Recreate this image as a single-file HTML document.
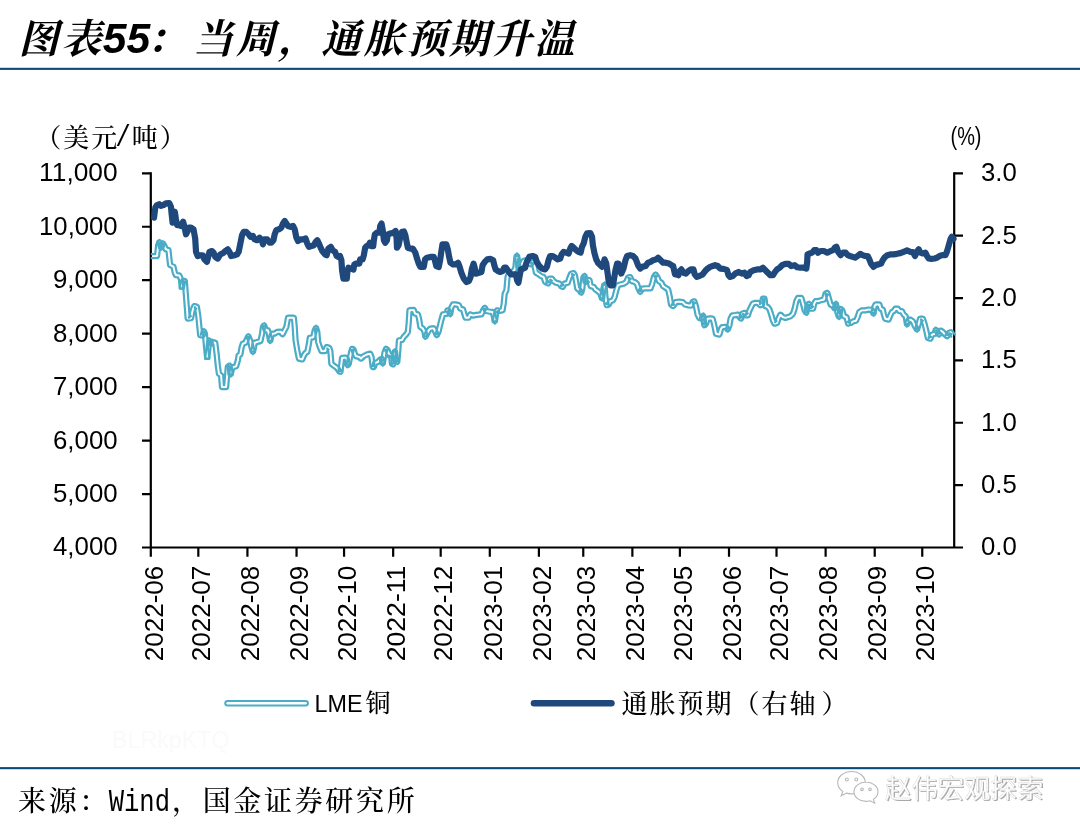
<!DOCTYPE html>
<html lang="zh-CN"><head><meta charset="utf-8"><title>图表55：当周，通胀预期升温</title>
<style>
html,body{margin:0;padding:0;background:#fff;}
body{width:1080px;height:837px;overflow:hidden;}
svg{display:block;}
.num{font-family:"Liberation Sans","Noto Sans CJK SC",sans-serif;fill:#000;}
.kai{font-family:"Liberation Serif","Noto Serif CJK SC",serif;font-weight:500;fill:#000;}
.mono{font-family:"Liberation Mono","Noto Sans CJK SC",monospace;fill:#000;}
.ttl{font-family:"Liberation Sans","Noto Serif CJK SC",serif;font-weight:700;font-style:italic;fill:#000;}
</style></head><body>
<svg width="1080" height="837" viewBox="0 0 1080 837">
<rect width="1080" height="837" fill="#fff"/>
<text class="ttl" x="18.5" y="53" font-size="40" letter-spacing="2.67">图表<tspan font-size="42.67" letter-spacing="0" dx="-1">55</tspan><tspan dx="-4">：</tspan><tspan dx="4">当</tspan>周，通胀预期升温</text>
<rect x="0" y="67.8" width="1080" height="2.1" fill="#0d4976"/>
<rect x="0" y="767.1" width="1080" height="2.1" fill="#0d4976"/>
<g stroke="#000" stroke-width="2.2" fill="none" stroke-linecap="butt">
<path d="M150.8 172.20000000000002V547.5M954.2 172.20000000000002V547.5M142.0 547.5H963.0"/>
<path d="M142.0 173.30H150.8M142.0 226.76H150.8M142.0 280.21H150.8M142.0 333.67H150.8M142.0 387.13H150.8M142.0 440.59H150.8M142.0 494.04H150.8M954.2 173.30H963.0M954.2 235.67H963.0M954.2 298.03H963.0M954.2 360.40H963.0M954.2 422.77H963.0M954.2 485.13H963.0M150.80 547.5V556.7M198.32 547.5V556.7M247.43 547.5V556.7M296.54 547.5V556.7M344.06 547.5V556.7M393.17 547.5V556.7M440.69 547.5V556.7M489.80 547.5V556.7M538.90 547.5V556.7M583.26 547.5V556.7M632.37 547.5V556.7M679.89 547.5V556.7M729.00 547.5V556.7M776.52 547.5V556.7M825.63 547.5V556.7M874.73 547.5V556.7M922.26 547.5V556.7"/>
</g>
<text class="num" x="39.1" y="181.2" font-size="25.3" textLength="78.5" lengthAdjust="spacingAndGlyphs">11,000</text>
<text class="num" x="39.1" y="234.7" font-size="25.3" textLength="78.5" lengthAdjust="spacingAndGlyphs">10,000</text>
<text class="num" x="53.0" y="288.1" font-size="25.3" textLength="64.6" lengthAdjust="spacingAndGlyphs">9,000</text>
<text class="num" x="53.0" y="341.6" font-size="25.3" textLength="64.6" lengthAdjust="spacingAndGlyphs">8,000</text>
<text class="num" x="53.0" y="395.0" font-size="25.3" textLength="64.6" lengthAdjust="spacingAndGlyphs">7,000</text>
<text class="num" x="53.0" y="448.5" font-size="25.3" textLength="64.6" lengthAdjust="spacingAndGlyphs">6,000</text>
<text class="num" x="53.0" y="501.9" font-size="25.3" textLength="64.6" lengthAdjust="spacingAndGlyphs">5,000</text>
<text class="num" x="53.0" y="555.4" font-size="25.3" textLength="64.6" lengthAdjust="spacingAndGlyphs">4,000</text>
<text class="num" x="981.0" y="181.2" font-size="25.3" textLength="35.8" lengthAdjust="spacingAndGlyphs">3.0</text>
<text class="num" x="981.0" y="243.6" font-size="25.3" textLength="35.8" lengthAdjust="spacingAndGlyphs">2.5</text>
<text class="num" x="981.0" y="305.9" font-size="25.3" textLength="35.8" lengthAdjust="spacingAndGlyphs">2.0</text>
<text class="num" x="981.0" y="368.3" font-size="25.3" textLength="35.8" lengthAdjust="spacingAndGlyphs">1.5</text>
<text class="num" x="981.0" y="430.7" font-size="25.3" textLength="35.8" lengthAdjust="spacingAndGlyphs">1.0</text>
<text class="num" x="981.0" y="493.0" font-size="25.3" textLength="35.8" lengthAdjust="spacingAndGlyphs">0.5</text>
<text class="num" x="981.0" y="555.4" font-size="25.3" textLength="35.8" lengthAdjust="spacingAndGlyphs">0.0</text>
<text class="num" transform="translate(162.50 661.2) rotate(-90)" font-size="25" textLength="95.5" lengthAdjust="spacingAndGlyphs">2022-06</text>
<text class="num" transform="translate(210.02 661.2) rotate(-90)" font-size="25" textLength="95.5" lengthAdjust="spacingAndGlyphs">2022-07</text>
<text class="num" transform="translate(259.13 661.2) rotate(-90)" font-size="25" textLength="95.5" lengthAdjust="spacingAndGlyphs">2022-08</text>
<text class="num" transform="translate(308.24 661.2) rotate(-90)" font-size="25" textLength="95.5" lengthAdjust="spacingAndGlyphs">2022-09</text>
<text class="num" transform="translate(355.76 661.2) rotate(-90)" font-size="25" textLength="95.5" lengthAdjust="spacingAndGlyphs">2022-10</text>
<text class="num" transform="translate(404.87 661.2) rotate(-90)" font-size="25" textLength="95.5" lengthAdjust="spacingAndGlyphs">2022-11</text>
<text class="num" transform="translate(452.39 661.2) rotate(-90)" font-size="25" textLength="95.5" lengthAdjust="spacingAndGlyphs">2022-12</text>
<text class="num" transform="translate(501.50 661.2) rotate(-90)" font-size="25" textLength="95.5" lengthAdjust="spacingAndGlyphs">2023-01</text>
<text class="num" transform="translate(550.60 661.2) rotate(-90)" font-size="25" textLength="95.5" lengthAdjust="spacingAndGlyphs">2023-02</text>
<text class="num" transform="translate(594.96 661.2) rotate(-90)" font-size="25" textLength="95.5" lengthAdjust="spacingAndGlyphs">2023-03</text>
<text class="num" transform="translate(644.07 661.2) rotate(-90)" font-size="25" textLength="95.5" lengthAdjust="spacingAndGlyphs">2023-04</text>
<text class="num" transform="translate(691.59 661.2) rotate(-90)" font-size="25" textLength="95.5" lengthAdjust="spacingAndGlyphs">2023-05</text>
<text class="num" transform="translate(740.70 661.2) rotate(-90)" font-size="25" textLength="95.5" lengthAdjust="spacingAndGlyphs">2023-06</text>
<text class="num" transform="translate(788.22 661.2) rotate(-90)" font-size="25" textLength="95.5" lengthAdjust="spacingAndGlyphs">2023-07</text>
<text class="num" transform="translate(837.33 661.2) rotate(-90)" font-size="25" textLength="95.5" lengthAdjust="spacingAndGlyphs">2023-08</text>
<text class="num" transform="translate(886.43 661.2) rotate(-90)" font-size="25" textLength="95.5" lengthAdjust="spacingAndGlyphs">2023-09</text>
<text class="num" transform="translate(933.96 661.2) rotate(-90)" font-size="25" textLength="95.5" lengthAdjust="spacingAndGlyphs">2023-10</text>
<text class="kai" x="35.3" y="147" font-size="26" letter-spacing="2">（美元</text><text class="kai" transform="translate(116.8 146) scale(1.75 1.3)" font-size="26">/</text><text class="kai" x="131.8" y="147" font-size="26" letter-spacing="2">吨）</text>
<text class="num" x="950.5" y="144.6" font-size="25" textLength="31" lengthAdjust="spacingAndGlyphs">(%)</text>
<g fill="none" stroke-linejoin="round" stroke-linecap="round">
<path d="M151.69 258.13 L157.04 258.13 L158.41 257.61 L159.08 256.30 L160.23 245.66 L161.32 242.54 L157.42 242.42 L159.09 248.27 L160.95 249.76 L162.96 248.48 L164.80 243.97 L161.12 244.22 L162.40 246.46 L164.03 250.21 L164.62 250.99 L165.51 251.40 L166.55 251.61 L168.05 265.24 L168.41 266.19 L169.18 266.85 L171.66 268.09 L172.78 273.01 L172.84 273.22 L172.92 273.42 L174.09 275.93 L174.76 276.73 L175.75 277.10 L177.89 277.31 L178.96 279.76 L179.76 288.62 L183.82 288.80 L185.16 281.27 L183.14 282.96 L184.81 282.96 L182.77 281.06 L183.44 290.26 L183.44 290.27 L183.44 290.27 L184.78 307.00 L185.62 318.70 L186.34 320.12 L187.86 320.59 L191.20 320.26 L192.37 319.75 L193.01 318.64 L194.65 310.78 L195.54 308.56 L196.21 308.78 L194.84 307.16 L196.17 315.46 L197.33 327.11 L198.16 335.48 L198.82 336.80 L200.20 337.33 L202.71 337.33 L203.95 336.91 L204.68 335.83 L205.85 331.65 L201.98 331.87 L202.87 334.09 L204.02 347.17 L204.02 347.18 L204.02 347.19 L205.19 358.90 L209.27 358.93 L210.61 347.23 L211.44 340.56 L207.58 341.22 L209.25 344.56 L210.75 345.66 L212.53 345.09 L213.30 344.32 L213.38 344.34 L214.56 353.91 L215.73 365.59 L215.73 365.63 L215.74 365.67 L216.91 374.03 L217.17 374.78 L217.69 375.37 L219.14 376.49 L219.91 387.28 L220.55 388.64 L221.95 389.19 L226.13 389.19 L227.52 388.65 L228.17 387.31 L229.01 377.27 L229.01 377.27 L229.79 367.98 L230.93 366.84 L227.45 365.65 L228.62 374.85 L230.55 376.64 L232.65 375.05 L233.88 369.65 L234.53 368.85 L236.75 368.20 L237.62 367.67 L238.14 366.79 L239.81 360.93 L239.84 360.82 L239.86 360.71 L240.53 356.72 L241.26 356.36 L241.99 355.75 L242.37 354.88 L243.68 347.51 L244.46 345.27 L246.01 344.76 L246.78 344.30 L247.27 343.57 L248.90 339.49 L250.19 337.09 L246.48 336.88 L248.09 340.89 L249.22 346.55 L249.24 346.63 L249.26 346.71 L250.93 352.57 L252.95 354.06 L254.90 352.48 L256.07 347.46 L256.09 347.34 L256.11 347.23 L256.45 344.34 L257.66 343.94 L260.93 343.12 L261.90 342.56 L262.43 341.57 L264.10 334.05 L264.12 333.96 L264.13 333.87 L264.91 327.67 L265.79 326.42 L262.16 325.89 L263.83 330.91 L264.58 331.92 L265.78 332.31 L266.33 332.31 L267.12 335.69 L268.11 341.48 L270.07 343.18 L272.13 341.60 L273.25 336.79 L273.78 335.66 L274.65 335.66 L275.25 335.57 L275.79 335.31 L277.87 333.92 L279.52 333.76 L280.84 335.62 L282.67 336.48 L284.34 335.36 L286.01 332.03 L288.18 327.86 L288.30 327.57 L288.38 327.28 L289.74 319.76 L292.01 319.76 L292.68 327.07 L293.51 340.43 L293.52 340.53 L293.54 340.64 L295.21 350.67 L295.21 350.70 L295.22 350.73 L296.89 359.10 L297.42 360.11 L298.40 360.69 L301.75 361.53 L303.18 361.36 L304.15 360.30 L305.75 356.31 L306.99 354.43 L308.18 353.85 L308.90 353.26 L309.28 352.41 L310.95 344.04 L310.96 343.99 L310.97 343.93 L311.59 339.59 L313.42 339.32 L314.51 338.80 L315.11 337.77 L316.75 330.94 L317.83 328.62 L314.02 328.37 L315.28 332.33 L316.10 342.14 L316.13 342.38 L316.19 342.62 L317.86 347.64 L317.89 347.70 L317.91 347.75 L319.59 351.93 L320.34 352.87 L321.49 353.22 L325.00 353.22 L326.15 352.87 L326.90 351.94 L327.87 349.55 L328.55 349.77 L327.27 348.51 L328.35 351.60 L329.34 363.88 L329.56 364.66 L330.07 365.29 L332.07 366.96 L332.15 367.03 L332.24 367.10 L334.58 368.65 L335.98 370.05 L337.53 372.39 L337.77 372.68 L338.05 372.92 L339.22 373.75 L341.24 373.95 L342.45 372.32 L343.45 363.96 L343.45 363.96 L343.45 363.95 L343.93 359.72 L344.55 359.65 L344.85 359.86 L345.57 365.64 L347.11 367.38 L349.28 366.57 L350.45 364.90 L350.65 364.53 L350.78 364.12 L351.79 359.10 L351.79 359.10 L351.79 359.10 L352.95 353.32 L354.09 349.21 L351.03 350.40 L351.74 350.84 L352.85 354.31 L352.89 354.43 L352.94 354.55 L354.11 357.06 L354.66 357.77 L355.47 358.18 L358.26 358.88 L359.54 360.15 L361.00 360.75 L362.44 360.15 L364.71 357.87 L367.55 356.45 L368.95 356.11 L369.52 357.54 L370.66 367.30 L371.34 368.59 L372.70 369.11 L373.87 369.11 L375.08 368.71 L375.82 367.68 L376.84 364.49 L378.36 363.98 L378.79 363.78 L379.16 363.49 L381.43 361.23 L382.82 360.53 L379.88 359.03 L380.71 364.05 L382.73 365.77 L384.75 364.06 L385.59 359.04 L385.60 359.01 L385.60 358.99 L386.40 353.37 L387.98 349.42 L384.63 350.11 L385.96 351.44 L387.47 356.00 L388.22 357.01 L389.42 357.40 L391.10 357.40 L389.06 355.55 L389.89 363.92 L390.19 364.80 L390.85 365.46 L392.19 366.29 L394.20 366.38 L395.31 364.70 L395.97 355.67 L396.93 351.65 L392.91 351.43 L394.09 360.63 L394.21 361.11 L394.44 361.55 L395.61 363.22 L397.82 364.02 L399.33 362.21 L400.33 350.50 L400.33 350.49 L400.34 350.47 L400.89 342.14 L402.20 342.00 L403.11 341.67 L403.76 340.95 L405.29 338.20 L407.60 335.89 L407.73 335.74 L407.85 335.58 L409.53 333.07 L409.76 332.62 L409.87 332.13 L410.70 323.77 L410.70 323.74 L410.71 323.70 L411.43 312.09 L412.29 312.02 L413.09 314.23 L413.62 315.02 L414.44 315.50 L416.19 316.01 L417.02 318.99 L418.35 327.23 L418.64 328.02 L419.23 328.61 L421.29 329.99 L422.58 332.57 L423.37 337.29 L425.09 338.98 L427.22 337.87 L428.89 334.53 L430.42 331.48 L431.34 330.56 L432.50 330.44 L433.54 332.74 L434.87 336.04 L436.69 337.33 L438.60 336.19 L440.27 332.84 L440.37 332.62 L440.44 332.40 L441.60 327.39 L443.26 320.75 L444.57 316.20 L446.60 315.90 L447.63 315.43 L448.25 314.49 L449.42 310.81 L446.39 311.93 L447.16 312.41 L448.25 315.13 L450.36 316.41 L452.17 314.72 L453.29 308.33 L454.26 306.38 L455.25 306.38 L457.34 306.90 L458.29 309.27 L458.81 310.03 L459.61 310.48 L461.36 310.99 L462.23 314.08 L462.24 314.12 L462.25 314.16 L463.59 318.34 L464.33 319.37 L465.54 319.76 L468.55 319.76 L469.63 319.45 L470.38 318.63 L471.20 316.99 L472.29 317.44 L472.87 317.58 L473.47 317.55 L476.71 316.90 L481.63 316.41 L482.66 316.01 L483.33 315.13 L484.92 311.15 L486.48 308.82 L482.95 308.60 L484.62 311.94 L485.21 312.65 L486.05 313.03 L488.56 313.53 L488.66 313.55 L488.75 313.56 L490.86 313.77 L491.66 315.77 L492.79 321.93 L494.83 323.61 L496.83 321.89 L498.00 314.78 L498.98 310.67 L496.08 312.03 L497.75 312.86 L498.36 313.05 L499.00 313.04 L502.87 312.39 L503.97 311.82 L504.55 310.72 L505.72 304.03 L505.73 303.96 L505.74 303.88 L506.70 294.22 L508.21 291.22 L508.35 290.86 L508.42 290.48 L509.57 277.39 L510.71 274.52 L512.13 274.24 L512.46 274.15 L512.76 274.00 L514.77 272.83 L515.24 272.46 L515.57 271.97 L517.24 268.62 L517.38 268.27 L517.45 267.90 L518.28 258.82 L518.91 255.94 L514.91 255.95 L515.55 258.83 L516.38 267.90 L517.04 269.22 L518.42 269.76 L520.43 269.76 L521.58 269.41 L522.33 268.47 L523.64 265.21 L524.89 262.70 L525.20 262.60 L526.82 264.76 L527.26 265.19 L527.81 265.47 L530.32 266.31 L531.64 266.31 L532.68 265.51 L534.35 263.00 L530.81 262.78 L532.36 265.89 L533.99 273.18 L534.33 273.93 L534.95 274.49 L537.68 276.11 L539.75 277.70 L540.04 277.89 L540.36 278.03 L541.89 278.53 L543.25 282.58 L543.61 283.24 L544.19 283.72 L547.20 285.40 L549.03 285.48 L550.20 284.08 L551.00 280.64 L551.88 280.64 L550.17 279.73 L551.84 282.24 L552.10 282.55 L552.41 282.81 L554.92 284.48 L555.23 284.64 L555.56 284.76 L558.14 285.41 L559.37 287.26 L559.72 287.66 L560.17 287.96 L561.84 288.79 L563.40 288.89 L564.58 287.87 L565.83 285.37 L568.27 284.76 L569.16 284.27 L569.72 283.42 L571.36 278.47 L572.62 275.46 L574.15 275.05 L571.81 274.04 L573.00 276.26 L574.11 282.29 L575.28 288.97 L575.55 289.68 L576.05 290.24 L577.96 291.72 L579.44 293.95 L581.47 294.83 L583.12 293.36 L584.29 289.17 L584.34 288.99 L584.36 288.81 L585.33 278.39 L586.27 276.77 L582.48 276.10 L583.65 282.63 L585.51 284.31 L587.60 282.95 L587.96 281.94 L588.94 282.23 L587.51 280.66 L588.68 286.52 L589.19 287.52 L590.15 288.10 L592.42 288.72 L593.66 290.60 L593.92 290.91 L594.23 291.17 L596.57 292.72 L598.60 294.75 L600.11 299.31 L602.25 300.70 L604.09 298.93 L605.41 289.03 L606.54 284.99 L602.52 284.58 L603.36 297.13 L603.37 297.22 L603.39 297.31 L604.73 305.67 L605.75 307.14 L607.54 307.24 L609.54 306.41 L610.15 306.02 L610.58 305.44 L611.88 302.85 L613.59 302.27 L614.28 301.88 L614.77 301.25 L616.44 297.91 L616.53 297.70 L616.60 297.49 L618.25 290.87 L619.58 286.90 L621.03 286.41 L624.30 285.60 L624.64 285.48 L624.95 285.31 L627.46 283.63 L627.91 283.22 L628.22 282.69 L629.56 279.34 L630.91 278.82 L628.27 277.67 L629.94 281.86 L630.46 282.62 L631.26 283.07 L633.73 283.79 L635.11 284.85 L636.59 289.27 L636.64 289.40 L636.70 289.53 L638.37 292.88 L640.12 294.02 L641.96 293.02 L643.44 290.56 L645.66 290.34 L650.58 290.34 L651.76 289.97 L652.51 288.98 L654.18 284.30 L654.21 284.20 L654.24 284.11 L655.82 277.75 L657.29 275.55 L653.89 275.55 L655.45 277.87 L657.04 281.86 L657.35 282.39 L657.80 282.81 L659.86 284.17 L661.29 287.03 L661.58 287.48 L661.98 287.83 L664.49 289.50 L664.49 289.50 L666.32 290.71 L667.79 297.37 L668.96 304.84 L669.23 305.57 L669.74 306.14 L671.91 307.81 L673.45 308.22 L674.81 307.40 L676.65 304.89 L676.74 304.76 L676.82 304.62 L677.17 303.94 L679.20 303.73 L681.62 303.98 L683.61 305.97 L684.05 306.30 L684.57 306.51 L687.91 307.34 L688.01 307.36 L688.12 307.38 L690.63 307.72 L691.90 307.48 L692.78 306.54 L694.15 303.52 L695.18 303.00 L692.31 301.82 L693.94 306.72 L695.59 314.95 L695.66 315.22 L695.77 315.47 L697.45 318.82 L697.94 319.45 L698.63 319.84 L701.13 320.68 L702.64 320.60 L703.68 319.50 L705.02 316.15 L701.08 315.63 L702.25 325.67 L703.62 327.37 L705.74 326.88 L707.42 325.20 L707.71 324.83 L707.91 324.40 L709.18 320.60 L710.15 320.47 L711.01 320.58 L712.33 325.88 L713.99 334.19 L714.52 335.20 L715.50 335.78 L718.85 336.62 L720.38 336.41 L721.32 335.19 L722.90 329.66 L723.32 329.06 L724.93 328.92 L725.94 330.65 L727.86 331.65 L729.61 330.37 L731.29 326.19 L731.36 325.99 L731.41 325.78 L732.53 319.39 L733.57 317.31 L735.46 317.10 L735.56 317.09 L735.65 317.07 L736.81 316.83 L737.71 318.20 L737.83 318.36 L737.97 318.51 L739.65 320.19 L741.66 320.71 L743.10 319.21 L744.02 315.24 L745.18 314.79 L742.74 314.02 L744.42 316.53 L745.15 317.20 L746.12 317.44 L747.79 317.44 L748.99 317.05 L749.74 316.04 L751.36 311.16 L752.96 307.95 L754.26 305.36 L755.65 304.89 L756.98 304.89 L758.88 306.80 L759.99 307.37 L761.24 307.19 L762.92 306.36 L763.67 305.72 L764.04 304.81 L764.87 298.95 L762.84 300.71 L764.52 300.71 L762.48 298.88 L763.31 306.41 L763.75 307.48 L764.70 308.13 L766.55 308.75 L767.68 310.45 L769.25 315.16 L770.91 320.97 L770.97 321.15 L771.05 321.33 L772.72 324.67 L773.76 325.64 L775.19 325.70 L777.70 324.87 L778.51 324.37 L779.00 323.57 L780.64 318.69 L780.97 318.01 L781.47 318.51 L781.84 318.80 L782.27 319.00 L784.78 319.84 L785.43 319.95 L786.08 319.84 L788.59 319.01 L791.09 318.18 L791.53 317.98 L791.90 317.68 L794.41 315.17 L794.70 314.80 L794.91 314.37 L796.58 309.35 L796.61 309.25 L796.63 309.14 L798.25 301.86 L799.24 299.88 L799.77 299.88 L801.01 304.21 L802.68 310.87 L802.80 311.20 L802.96 311.51 L804.63 314.02 L806.78 314.88 L808.37 313.19 L809.45 306.21 L810.45 304.96 L806.90 304.33 L808.57 309.35 L809.32 310.36 L810.52 310.75 L813.03 310.75 L814.30 310.31 L815.03 309.17 L816.14 304.41 L816.77 303.22 L818.05 303.22 L818.38 303.19 L818.70 303.11 L821.13 302.30 L824.39 301.49 L825.32 300.98 L825.87 300.06 L827.30 295.07 L828.16 294.65 L825.28 293.37 L826.95 299.22 L828.62 305.08 L828.93 305.73 L829.45 306.23 L831.62 307.67 L833.08 309.84 L835.15 310.72 L836.78 309.17 L837.95 304.15 L833.93 304.00 L835.27 312.36 L835.30 312.53 L835.34 312.69 L837.01 317.71 L839.09 319.11 L840.97 317.46 L842.64 309.10 L839.18 310.15 L840.48 311.44 L842.01 316.79 L842.50 317.65 L843.34 318.18 L844.77 318.65 L846.17 324.25 L847.27 325.59 L849.00 325.62 L850.44 324.97 L850.95 324.97 L851.54 324.88 L852.09 324.63 L854.26 323.18 L856.38 322.75 L857.25 322.34 L857.84 321.59 L859.51 317.91 L859.55 317.81 L859.59 317.71 L861.03 313.36 L862.44 312.42 L865.17 312.42 L865.42 312.40 L865.66 312.36 L868.61 311.63 L870.45 311.90 L871.66 314.57 L873.84 315.75 L875.56 313.98 L876.36 307.60 L876.85 306.57 L877.84 306.57 L878.59 309.25 L879.04 310.08 L879.82 310.61 L880.98 311.06 L881.90 315.02 L881.92 315.10 L881.95 315.17 L883.29 319.36 L883.84 320.24 L884.75 320.73 L888.10 321.56 L889.53 321.39 L890.49 320.33 L892.13 316.23 L893.46 313.57 L894.52 313.05 L894.96 312.75 L895.32 312.35 L896.38 310.75 L896.69 310.75 L897.75 312.35 L898.49 313.02 L899.46 313.26 L900.70 313.26 L901.81 315.47 L902.03 315.82 L902.33 316.12 L903.75 317.31 L904.97 324.91 L906.84 326.63 L908.94 325.22 L909.99 321.93 L910.11 321.89 L911.17 322.60 L912.62 326.19 L912.68 326.34 L912.76 326.49 L915.27 330.67 L917.30 331.64 L919.00 330.17 L920.67 324.31 L920.68 324.30 L920.68 324.28 L921.61 320.79 L922.88 320.79 L920.94 319.39 L922.58 324.32 L924.23 330.92 L925.90 338.41 L926.38 339.34 L927.25 339.91 L929.76 340.75 L931.27 340.67 L932.31 339.57 L933.63 336.27 L935.24 335.73 L936.08 335.20 L936.56 334.34 L937.73 330.16 L934.05 330.75 L935.72 333.26 L935.72 333.26 L935.73 333.26 L937.41 335.77 L939.32 336.67 L941.01 335.39 L941.68 333.72 L941.71 333.75 L941.41 333.46 L943.58 335.97 L943.69 336.09 L943.82 336.21 L945.83 337.88 L947.56 338.31 L948.97 337.22 L950.30 334.56 L951.61 334.01 L949.10 333.24 L951.27 336.58" stroke="#4bacc6" stroke-width="2.2"/>
<path d="M151.69 254.03 L155.20 254.03 L156.18 244.98 L156.22 244.75 L156.29 244.52 L157.46 241.18 L159.45 239.81 L161.36 241.30 L163.03 247.15 L159.16 246.94 L161.00 242.43 L162.76 241.15 L164.68 242.18 L166.02 244.52 L166.07 244.62 L166.12 244.72 L167.36 247.59 L168.82 247.88 L169.93 248.50 L170.46 249.67 L172.00 263.68 L174.35 264.86 L175.05 265.42 L175.44 266.23 L176.73 271.88 L177.31 273.13 L179.49 273.35 L180.50 273.73 L181.17 274.57 L182.85 278.42 L182.96 278.73 L183.01 279.06 L183.84 288.26 L179.78 288.08 L181.12 280.55 L181.82 279.34 L183.14 278.86 L184.81 278.86 L186.21 279.41 L186.85 280.76 L187.52 289.95 L188.86 306.68 L188.86 306.68 L188.86 306.69 L189.55 316.30 L190.80 316.18 L188.99 317.80 L190.67 309.77 L190.72 309.60 L190.78 309.43 L192.45 305.24 L193.49 304.14 L195.00 304.06 L197.51 304.90 L198.42 305.51 L198.88 306.52 L200.22 314.88 L200.23 314.94 L200.24 315.00 L201.41 326.71 L201.41 326.71 L201.41 326.71 L202.06 333.23 L202.71 333.23 L200.74 334.73 L201.91 330.55 L203.77 329.05 L205.78 330.33 L206.79 332.84 L206.88 333.13 L206.93 333.43 L208.10 346.80 L209.27 358.50 L205.19 358.47 L206.53 346.76 L206.53 346.75 L206.54 346.73 L207.38 340.04 L209.06 338.28 L211.24 339.38 L212.91 342.72 L209.63 342.19 L211.30 340.52 L212.28 339.97 L213.40 340.03 L215.91 340.87 L216.85 341.51 L217.29 342.56 L218.63 353.43 L218.64 353.45 L218.64 353.48 L219.81 365.15 L220.85 372.64 L222.37 373.81 L222.93 374.46 L223.16 375.29 L223.86 385.09 L224.24 385.09 L224.93 376.93 L224.93 376.93 L225.77 366.89 L225.95 366.20 L226.36 365.61 L228.03 363.94 L230.14 363.45 L231.51 365.13 L232.68 374.33 L228.65 374.13 L229.99 368.28 L230.14 367.85 L230.39 367.46 L231.73 365.78 L232.19 365.36 L232.75 365.09 L234.51 364.58 L235.84 359.92 L236.66 355.01 L237.03 354.13 L237.77 353.51 L238.51 353.14 L239.67 346.63 L239.71 346.47 L239.75 346.31 L240.92 342.96 L241.42 342.18 L242.22 341.69 L243.82 341.16 L245.14 337.86 L245.18 337.75 L245.23 337.65 L246.57 335.15 L248.49 334.07 L250.28 335.36 L251.96 339.54 L252.02 339.71 L252.07 339.90 L253.22 345.67 L254.87 351.45 L250.90 351.54 L252.05 346.63 L252.53 342.57 L252.98 341.52 L253.92 340.87 L256.43 340.03 L256.50 340.00 L256.58 339.98 L258.70 339.45 L260.08 333.26 L260.91 326.65 L261.03 326.17 L261.26 325.73 L262.43 324.06 L264.41 323.21 L266.06 324.59 L267.26 328.21 L267.96 328.21 L269.23 328.65 L269.96 329.79 L271.13 334.81 L271.14 334.87 L271.15 334.93 L272.15 340.78 L268.13 340.66 L269.30 335.65 L269.36 335.45 L269.44 335.25 L270.61 332.74 L271.37 331.88 L272.47 331.56 L274.03 331.56 L276.02 330.23 L276.47 330.00 L276.96 329.89 L280.30 329.56 L281.35 329.74 L282.17 330.42 L282.21 330.46 L282.35 330.18 L282.35 330.17 L282.36 330.15 L284.40 326.24 L286.01 317.34 L286.72 316.14 L288.03 315.66 L293.88 315.66 L295.26 316.20 L295.92 317.52 L296.76 326.72 L296.76 326.75 L296.77 326.78 L297.60 340.07 L299.25 349.96 L300.66 357.03 L301.01 357.12 L302.02 354.59 L302.10 354.40 L302.21 354.21 L303.88 351.70 L304.24 351.30 L304.68 351.00 L305.46 350.62 L306.92 343.29 L307.75 337.50 L308.33 336.34 L309.48 335.76 L311.45 335.47 L312.81 329.78 L312.86 329.59 L312.94 329.39 L314.11 326.88 L316.10 325.70 L317.92 327.13 L319.25 331.31 L319.31 331.53 L319.34 331.76 L320.16 341.56 L321.74 346.28 L322.88 349.12 L323.62 349.12 L324.79 346.22 L325.83 345.13 L327.34 345.05 L329.85 345.89 L330.64 346.37 L331.13 347.15 L332.30 350.49 L332.38 350.75 L332.41 351.01 L333.35 362.70 L334.61 363.74 L337.03 365.35 L337.19 365.47 L337.34 365.61 L339.02 367.29 L339.16 367.44 L339.28 367.60 L340.74 369.80 L341.60 370.41 L338.37 371.84 L339.37 363.48 L340.04 357.63 L340.63 356.41 L341.86 355.82 L344.87 355.49 L345.60 355.54 L346.26 355.85 L347.94 357.02 L348.53 357.64 L348.80 358.45 L349.63 365.14 L345.92 364.21 L346.84 362.90 L347.77 358.30 L348.94 352.44 L348.96 352.36 L348.98 352.29 L350.15 348.11 L351.38 346.75 L353.21 346.92 L354.55 347.76 L355.08 348.24 L355.41 348.87 L356.71 352.93 L357.42 354.44 L359.81 355.04 L360.32 355.25 L360.76 355.58 L360.98 355.80 L362.04 354.74 L362.29 354.53 L362.58 354.36 L365.93 352.69 L366.13 352.60 L366.34 352.53 L369.69 351.69 L371.12 351.86 L372.10 352.92 L373.43 356.27 L373.51 356.53 L373.56 356.79 L374.74 366.82 L372.70 365.01 L373.87 365.01 L371.92 366.44 L373.25 362.26 L373.74 361.44 L374.55 360.94 L376.60 360.25 L378.77 358.09 L379.02 357.88 L379.30 357.71 L380.98 356.87 L382.83 356.87 L383.92 358.37 L384.75 363.39 L380.71 363.38 L381.54 358.39 L382.38 352.55 L382.43 352.31 L382.51 352.08 L384.18 347.90 L385.67 346.65 L387.53 347.21 L389.20 348.88 L389.49 349.25 L389.70 349.68 L390.90 353.30 L391.10 353.30 L392.48 353.83 L393.14 355.15 L393.87 362.51 L394.35 362.81 L391.23 364.40 L391.90 355.20 L391.91 355.04 L391.95 354.87 L392.95 350.69 L395.05 349.12 L396.97 350.91 L398.09 359.61 L398.97 360.86 L395.25 361.87 L396.25 350.17 L396.91 340.16 L397.48 338.88 L398.73 338.26 L400.69 338.04 L401.85 335.96 L402.00 335.72 L402.19 335.50 L404.56 333.13 L405.84 331.22 L406.62 323.40 L407.45 310.06 L408.04 308.75 L409.33 308.15 L413.51 307.81 L414.79 308.12 L415.61 309.15 L416.59 311.86 L418.44 312.40 L419.32 312.93 L419.83 313.82 L421.00 318.00 L421.03 318.11 L421.05 318.23 L422.25 325.70 L424.02 326.89 L424.42 327.23 L424.71 327.67 L426.38 331.01 L426.50 331.30 L426.57 331.59 L427.41 336.61 L423.56 336.03 L425.23 332.69 L425.23 332.69 L425.23 332.69 L426.91 329.34 L427.08 329.06 L427.29 328.81 L428.96 327.14 L429.53 326.74 L430.20 326.55 L433.54 326.21 L434.77 326.47 L435.61 327.40 L437.29 331.08 L437.31 331.12 L437.33 331.17 L438.67 334.52 L434.94 334.37 L436.50 331.23 L437.61 326.44 L437.62 326.43 L437.62 326.41 L439.29 319.72 L439.30 319.69 L439.31 319.65 L440.99 313.80 L441.61 312.83 L442.66 312.34 L444.73 312.03 L445.52 309.57 L446.76 308.27 L448.55 308.45 L449.89 309.28 L450.38 309.70 L450.71 310.26 L452.05 313.61 L448.13 314.02 L449.30 307.33 L449.37 307.04 L449.49 306.77 L451.16 303.42 L451.91 302.59 L452.99 302.28 L455.50 302.28 L455.75 302.30 L456.00 302.34 L459.35 303.18 L460.20 303.63 L460.75 304.41 L461.72 306.83 L463.61 307.38 L464.49 307.91 L465.00 308.80 L466.16 312.94 L467.04 315.66 L467.28 315.66 L468.39 313.45 L469.50 312.45 L471.00 312.47 L473.27 313.41 L476.01 312.86 L476.11 312.84 L476.21 312.83 L479.99 312.45 L481.20 309.43 L481.29 309.23 L481.40 309.05 L483.08 306.54 L484.91 305.63 L486.61 306.76 L487.83 309.21 L489.26 309.49 L492.51 309.82 L493.53 310.22 L494.20 311.10 L495.54 314.44 L495.61 314.63 L495.66 314.83 L496.83 321.19 L492.79 321.23 L493.97 314.04 L493.98 313.97 L494.00 313.89 L495.00 309.71 L496.12 308.33 L497.90 308.35 L498.98 308.89 L500.76 308.59 L501.67 303.40 L502.66 293.44 L502.73 293.07 L502.87 292.72 L504.37 289.73 L505.51 276.73 L505.56 276.44 L505.65 276.15 L507.32 271.97 L507.91 271.15 L508.82 270.72 L510.99 270.29 L512.18 269.60 L513.40 267.14 L514.21 258.32 L514.22 258.20 L514.25 258.07 L514.91 255.06 L516.91 253.45 L518.91 255.05 L519.58 258.06 L519.61 258.19 L519.62 258.32 L520.29 265.66 L520.43 265.66 L518.53 266.95 L519.87 263.61 L519.90 263.53 L519.94 263.46 L521.61 260.11 L522.10 259.47 L522.80 259.07 L525.31 258.24 L526.56 258.23 L527.59 258.96 L529.72 261.79 L530.13 261.93 L530.93 260.72 L532.77 259.81 L534.47 260.94 L536.14 264.28 L536.24 264.51 L536.31 264.75 L537.80 271.42 L539.87 272.65 L539.98 272.71 L540.08 272.79 L541.97 274.24 L544.15 274.96 L544.96 275.46 L545.45 276.26 L546.88 280.53 L549.20 281.82 L546.20 283.14 L547.37 278.12 L548.10 276.98 L549.37 276.54 L551.88 276.54 L552.85 276.78 L553.59 277.45 L555.03 279.62 L556.90 280.87 L559.91 281.62 L560.59 281.94 L561.12 282.47 L562.48 284.53 L563.66 285.11 L560.92 286.03 L562.59 282.69 L563.14 282.01 L563.92 281.62 L566.18 281.06 L567.49 277.10 L567.52 277.03 L567.55 276.96 L569.23 272.95 L569.77 272.20 L570.59 271.76 L573.09 271.09 L574.44 271.19 L575.43 272.10 L576.77 274.61 L576.90 274.90 L576.98 275.21 L578.15 281.56 L578.15 281.57 L578.15 281.58 L579.18 287.48 L580.73 288.68 L580.98 288.90 L581.19 289.16 L582.86 291.67 L579.18 292.26 L580.30 288.25 L581.29 277.56 L581.38 277.12 L581.56 276.72 L582.73 274.71 L584.86 273.72 L586.52 275.38 L587.69 281.91 L583.74 281.59 L584.74 278.74 L585.74 277.60 L587.25 277.45 L590.10 278.29 L591.03 278.88 L591.53 279.86 L592.45 284.48 L594.24 284.97 L594.90 285.29 L595.41 285.81 L596.85 287.98 L599.02 289.42 L599.18 289.54 L599.33 289.68 L601.84 292.19 L602.13 292.56 L602.34 292.99 L604.01 298.01 L600.03 298.39 L601.37 288.35 L601.39 288.21 L601.43 288.07 L602.60 283.89 L604.78 282.40 L606.62 284.30 L607.45 296.76 L608.77 305.03 L605.96 303.46 L607.26 302.92 L608.60 300.25 L609.09 299.62 L609.78 299.23 L611.49 298.66 L612.68 296.27 L614.29 289.80 L614.31 289.73 L614.34 289.65 L616.02 284.63 L616.51 283.83 L617.31 283.34 L619.81 282.50 L619.89 282.47 L619.97 282.45 L622.97 281.71 L624.65 280.58 L626.09 276.99 L626.55 276.29 L627.25 275.84 L629.43 275.00 L630.99 275.03 L632.07 276.15 L633.37 279.41 L635.26 279.96 L635.61 280.10 L635.93 280.31 L638.11 281.99 L638.53 282.42 L638.80 282.96 L640.43 287.83 L642.03 291.06 L638.44 290.92 L640.45 287.57 L641.11 286.89 L642.01 286.58 L645.36 286.25 L645.46 286.24 L645.56 286.24 L649.13 286.24 L650.29 283.02 L651.93 276.41 L652.05 276.08 L652.22 275.77 L653.89 273.27 L655.59 272.36 L657.29 273.27 L658.97 275.77 L659.08 275.95 L659.17 276.15 L660.61 279.75 L662.59 281.06 L662.99 281.41 L663.28 281.86 L664.71 284.72 L666.77 286.08 L666.77 286.08 L669.28 287.75 L669.83 288.30 L670.14 289.02 L671.81 296.55 L671.82 296.61 L671.84 296.67 L672.89 303.39 L674.41 304.57 L671.51 304.98 L673.25 302.60 L674.04 301.07 L674.71 300.32 L675.65 299.97 L678.99 299.63 L679.20 299.62 L679.41 299.63 L682.76 299.97 L683.43 300.16 L684.00 300.56 L686.11 302.67 L688.79 303.33 L689.67 303.45 L690.71 301.16 L691.10 300.59 L691.66 300.18 L693.34 299.34 L695.05 299.28 L696.21 300.52 L697.88 305.54 L697.91 305.66 L697.94 305.79 L699.56 313.88 L700.73 316.23 L702.43 316.80 L699.88 317.98 L701.22 314.63 L703.39 313.36 L705.16 315.15 L706.33 325.19 L702.84 323.98 L704.18 322.64 L705.70 318.09 L706.33 317.16 L707.36 316.71 L709.87 316.37 L710.15 316.35 L710.43 316.37 L712.94 316.71 L714.03 317.21 L714.65 318.24 L716.32 324.93 L716.33 324.98 L716.34 325.03 L717.76 332.12 L717.92 332.16 L719.05 328.21 L719.17 327.89 L719.34 327.59 L720.51 325.92 L721.17 325.32 L722.01 325.06 L725.86 324.73 L726.98 324.95 L727.81 325.73 L729.48 328.57 L725.81 328.85 L727.41 324.87 L728.54 318.39 L728.61 318.10 L728.73 317.83 L730.40 314.48 L731.06 313.71 L732.01 313.35 L734.92 313.03 L737.34 312.54 L738.53 312.66 L739.46 313.41 L741.01 315.75 L742.55 317.29 L739.10 318.27 L740.27 313.25 L740.72 312.38 L741.53 311.81 L743.70 310.97 L745.06 310.93 L746.14 311.74 L747.21 313.34 L747.79 313.34 L745.84 314.74 L747.51 309.72 L747.57 309.59 L747.63 309.45 L749.30 306.11 L749.30 306.11 L749.30 306.11 L750.98 302.76 L751.47 302.13 L752.16 301.74 L754.67 300.90 L754.99 300.82 L755.32 300.79 L757.83 300.79 L758.62 300.95 L759.28 301.39 L760.74 302.86 L761.10 302.68 L759.98 304.23 L760.81 298.37 L761.50 297.11 L762.84 296.61 L764.52 296.61 L765.89 297.13 L766.56 298.44 L767.24 304.66 L768.51 305.09 L769.10 305.40 L769.56 305.89 L771.24 308.40 L771.38 308.64 L771.48 308.89 L773.15 313.90 L773.17 313.94 L773.18 313.99 L774.80 319.66 L775.59 321.25 L776.42 320.97 L775.12 322.27 L776.80 317.25 L776.85 317.12 L776.91 316.99 L778.58 313.64 L780.08 312.53 L781.86 313.10 L784.03 315.27 L785.43 315.74 L787.29 315.12 L787.29 315.11 L787.30 315.11 L789.34 314.44 L791.17 312.61 L792.65 308.15 L794.30 300.73 L794.37 300.48 L794.47 300.25 L796.14 296.91 L796.89 296.09 L797.97 295.78 L801.32 295.78 L802.55 296.19 L803.29 297.27 L804.96 303.12 L804.97 303.15 L804.98 303.18 L806.57 309.53 L808.05 311.74 L804.31 312.57 L805.48 305.04 L805.63 304.52 L805.91 304.07 L807.25 302.40 L809.21 301.66 L810.80 303.03 L812.00 306.65 L813.03 306.65 L811.03 308.23 L812.20 303.21 L812.28 302.96 L812.39 302.71 L813.73 300.20 L814.49 299.41 L815.54 299.12 L817.72 299.12 L819.91 298.39 L819.99 298.36 L820.07 298.34 L822.26 297.80 L823.61 293.08 L824.00 292.33 L824.67 291.80 L826.34 290.97 L828.08 290.93 L829.22 292.25 L830.89 298.10 L830.89 298.10 L830.89 298.10 L832.35 303.23 L834.24 304.48 L834.55 304.74 L834.80 305.05 L836.48 307.56 L832.78 308.23 L833.95 303.21 L836.02 301.63 L837.97 303.36 L839.29 311.55 L840.91 316.41 L836.95 316.66 L838.62 308.30 L840.04 306.74 L842.08 307.25 L843.75 308.92 L844.07 309.33 L844.27 309.81 L845.65 314.62 L847.13 315.11 L847.99 315.67 L848.48 316.56 L850.15 323.25 L847.32 321.88 L849.16 321.05 L849.57 320.92 L850.00 320.87 L850.33 320.87 L852.32 319.54 L852.67 319.36 L853.05 319.24 L854.54 318.94 L855.73 316.31 L857.36 311.39 L857.68 310.80 L858.17 310.33 L860.68 308.66 L861.23 308.41 L861.82 308.32 L864.92 308.32 L868.02 307.55 L868.41 307.49 L868.81 307.51 L872.16 308.01 L873.09 308.40 L873.73 309.19 L875.40 312.87 L871.50 313.46 L872.34 306.77 L872.40 306.46 L872.51 306.16 L873.68 303.65 L874.44 302.79 L875.54 302.47 L879.39 302.47 L880.63 302.89 L881.36 303.97 L882.26 307.16 L883.47 307.63 L884.28 308.20 L884.73 309.07 L885.88 314.00 L886.84 317.03 L887.35 317.15 L888.36 314.63 L888.39 314.55 L888.43 314.48 L890.10 311.13 L890.48 310.59 L891.02 310.20 L892.21 309.62 L893.57 307.56 L894.31 306.89 L895.28 306.65 L897.79 306.65 L898.76 306.89 L899.50 307.56 L900.56 309.16 L901.97 309.16 L903.05 309.47 L903.80 310.29 L905.28 313.25 L906.96 314.66 L907.43 315.22 L907.67 315.91 L909.01 324.27 L905.04 323.96 L906.38 319.78 L906.82 319.03 L907.54 318.52 L909.54 317.68 L910.53 317.53 L911.47 317.87 L913.98 319.55 L914.43 319.96 L914.74 320.49 L916.36 324.51 L918.79 328.55 L915.06 329.05 L916.72 323.20 L918.06 318.21 L918.79 317.11 L920.04 316.69 L922.88 316.69 L924.08 317.08 L924.82 318.09 L926.49 323.10 L926.52 323.18 L926.54 323.25 L928.22 329.95 L928.23 329.98 L928.23 330.01 L929.65 336.39 L931.06 336.87 L928.51 338.05 L930.18 333.87 L930.67 333.14 L931.43 332.69 L932.91 332.19 L933.79 329.06 L935.44 327.59 L937.47 328.47 L939.14 330.98 L940.81 333.49 L937.21 333.87 L938.88 329.69 L940.24 328.47 L942.03 328.82 L944.21 330.49 L944.37 330.63 L944.51 330.78 L946.57 333.16 L948.45 334.72 L945.31 335.38 L946.98 332.04 L947.41 331.46 L948.02 331.07 L950.03 330.23 L951.42 330.16 L952.54 331.00 L954.71 334.34" stroke="#4bacc6" stroke-width="2.2"/>
<path d="M154.03 217.60 L154.54 213.42 L155.37 207.40 L156.71 205.39 L159.22 204.22 L160.89 205.89 L163.40 205.06 L165.91 203.38 L169.26 203.05 L170.93 206.73 L171.77 215.09 L172.60 222.62 L173.77 216.77 L174.78 211.75 L175.95 219.28 L177.12 225.13 L179.29 225.13 L180.97 225.97 L183.14 221.78 L184.31 225.97 L185.99 234.33 L187.66 230.99 L188.83 227.64 L191.00 227.64 L193.51 229.31 L195.19 238.51 L196.02 251.90 L197.70 256.08 L200.20 255.24 L202.71 255.24 L204.39 259.42 L206.90 261.93 L208.23 256.91 L209.41 251.90 L211.91 251.06 L213.59 252.73 L215.26 256.91 L217.77 258.59 L220.28 254.41 L223.62 252.73 L225.30 251.06 L227.81 249.39 L229.48 251.90 L231.15 256.08 L234.50 255.24 L237.01 254.41 L238.68 251.90 L240.35 243.53 L242.03 235.17 L243.70 231.82 L246.21 231.82 L248.72 234.33 L250.39 236.84 L252.90 236.00 L254.57 239.35 L257.08 240.19 L259.59 237.68 L262.10 241.02 L262.94 244.37 L264.11 239.35 L267.12 239.35 L269.63 242.70 L271.30 242.70 L273.48 240.19 L274.65 234.33 L276.32 230.15 L278.83 229.31 L281.34 227.64 L283.01 223.46 L284.68 220.95 L286.36 223.46 L288.03 225.97 L290.54 226.80 L293.05 225.97 L294.72 229.31 L296.39 237.68 L298.07 241.02 L300.58 239.35 L303.09 239.35 L305.59 238.51 L307.27 243.53 L308.94 246.88 L311.45 246.04 L313.96 245.20 L315.63 241.86 L317.30 240.19 L318.98 243.53 L320.65 247.71 L322.32 251.06 L325.00 254.41 L326.69 255.24 L328.36 248.55 L330.87 246.88 L332.55 250.22 L335.06 251.90 L336.73 256.08 L338.40 256.91 L340.07 256.08 L341.41 260.26 L342.08 270.30 L343.42 278.66 L346.77 278.66 L347.60 270.30 L348.44 267.79 L350.95 268.62 L353.46 269.46 L354.29 264.44 L355.97 263.61 L359.31 263.61 L360.15 259.42 L362.66 259.42 L363.83 255.24 L365.17 247.71 L366.84 246.04 L368.51 245.20 L369.85 242.70 L371.02 246.04 L373.20 246.04 L373.87 240.19 L374.87 234.33 L376.88 232.66 L379.39 232.66 L380.22 225.97 L381.56 223.46 L382.73 230.15 L383.90 240.19 L385.24 242.70 L386.91 240.19 L387.75 234.33 L390.26 233.49 L393.61 232.66 L395.61 230.99 L396.62 238.51 L396.95 247.71 L398.62 245.20 L400.30 236.84 L401.97 231.82 L403.98 231.49 L405.32 235.17 L406.65 241.86 L407.83 247.71 L410.33 248.55 L412.84 248.55 L415.35 252.73 L417.03 258.59 L418.70 263.61 L420.37 266.95 L423.72 266.95 L425.06 259.42 L427.06 257.75 L430.41 256.91 L433.75 256.91 L435.09 261.10 L436.26 266.12 L438.77 266.95 L440.11 260.26 L441.28 251.90 L442.45 244.37 L446.30 244.37 L447.97 250.22 L449.14 256.91 L450.48 262.77 L452.99 264.44 L455.50 264.44 L458.01 262.77 L459.68 266.95 L461.36 272.81 L463.87 278.66 L466.38 282.01 L468.88 281.17 L470.56 276.99 L471.90 268.62 L473.57 263.61 L474.74 267.79 L475.91 273.64 L478.92 272.81 L481.43 271.97 L482.60 265.28 L484.78 261.93 L487.29 259.42 L490.63 258.92 L493.14 260.26 L494.31 265.28 L495.65 269.46 L498.16 271.13 L500.00 271.97 L502.53 271.06 L504.20 267.71 L505.87 267.71 L508.38 271.06 L510.89 274.41 L513.40 274.41 L515.91 274.41 L517.08 280.26 L518.42 282.77 L519.76 275.24 L520.93 269.39 L523.44 268.55 L525.11 267.71 L526.78 261.86 L529.29 256.84 L532.64 256.00 L535.15 256.84 L536.82 261.86 L539.33 266.04 L541.84 268.55 L545.19 269.39 L546.86 266.88 L548.53 260.19 L550.20 256.00 L552.71 256.00 L555.22 257.68 L557.73 259.35 L560.24 258.51 L561.58 254.33 L563.59 251.82 L566.10 252.66 L568.61 253.49 L570.28 248.48 L571.62 245.97 L573.62 247.64 L576.13 250.15 L578.64 251.82 L580.65 252.66 L581.99 246.80 L583.66 243.46 L585.33 236.77 L587.01 233.42 L590.35 233.09 L592.03 236.77 L592.86 245.13 L594.54 253.49 L596.21 259.35 L597.88 262.70 L599.55 264.37 L602.06 266.88 L603.40 263.53 L604.57 259.35 L606.25 263.53 L607.42 271.90 L608.75 281.93 L610.43 285.28 L612.94 285.28 L614.11 278.59 L615.45 270.22 L617.12 263.53 L618.46 263.53 L619.63 270.22 L621.30 273.57 L623.48 268.55 L625.48 260.19 L627.16 256.00 L630.17 255.17 L633.01 256.00 L635.52 258.51 L638.03 265.20 L640.20 268.55 L642.21 266.88 L645.56 266.04 L648.07 262.70 L650.58 261.86 L653.09 260.19 L656.43 259.35 L658.10 257.68 L660.61 260.19 L663.12 262.70 L665.63 262.70 L668.98 263.53 L671.49 265.20 L673.16 266.04 L675.00 274.41 L676.36 274.41 L678.36 275.24 L679.70 271.06 L681.38 269.39 L683.38 272.73 L685.89 273.57 L688.40 271.06 L690.91 269.39 L693.42 269.39 L694.76 274.41 L696.77 276.91 L699.28 276.08 L702.62 274.41 L705.13 271.06 L707.64 268.55 L710.15 266.88 L712.66 266.04 L715.17 265.20 L717.68 266.04 L720.19 268.55 L723.53 268.88 L726.88 269.89 L728.55 275.24 L729.89 276.91 L732.73 276.08 L735.24 273.57 L738.59 271.90 L741.93 273.57 L744.44 272.73 L746.62 276.08 L748.62 275.24 L750.30 271.90 L753.64 270.22 L756.99 269.39 L760.33 269.39 L762.84 267.71 L765.35 270.22 L767.86 272.73 L770.37 275.24 L772.88 275.24 L775.06 271.90 L777.06 269.39 L779.57 267.71 L782.08 265.20 L785.43 263.87 L788.77 263.87 L791.28 266.04 L794.63 265.20 L797.14 267.21 L800.48 267.71 L803.83 267.71 L806.34 268.55 L807.17 261.86 L807.51 254.33 L809.68 253.49 L812.19 252.66 L814.20 250.15 L816.38 250.15 L818.05 252.66 L820.56 250.99 L823.90 250.99 L827.25 252.66 L830.59 250.99 L833.10 250.15 L834.78 247.64 L836.45 246.80 L838.12 251.82 L840.63 255.17 L843.14 252.66 L845.65 252.66 L847.66 255.17 L850.00 256.00 L852.62 256.84 L855.13 257.68 L857.64 256.00 L860.15 253.83 L862.66 255.17 L865.17 256.00 L867.68 256.00 L869.35 259.35 L871.02 263.53 L873.53 266.88 L876.04 264.87 L878.55 264.37 L881.06 263.53 L882.73 260.19 L884.41 257.68 L886.91 255.50 L890.26 254.33 L893.61 254.33 L896.95 253.83 L900.30 253.16 L903.64 251.82 L906.99 250.48 L910.33 251.82 L912.84 252.16 L915.02 256.00 L917.03 251.82 L918.70 249.31 L920.37 252.66 L922.88 253.49 L925.39 252.66 L927.06 256.00 L928.74 258.51 L931.25 258.85 L934.59 258.51 L937.10 257.68 L939.61 256.00 L942.12 255.17 L945.46 255.17 L947.14 250.99 L948.81 245.13 L950.48 239.28 L951.82 236.77 L953.49 238.77" stroke="#1f497d" stroke-width="6.2"/>
</g>
<g fill="none" stroke-linecap="round"><path d="M227.6 703.2H305.6" stroke="#4bacc6" stroke-width="6.6"/><path d="M227.6 703.2H305.6" stroke="#fff" stroke-width="2.4"/><path d="M534 703.2H611.4" stroke="#1f497d" stroke-width="6.6"/></g>
<text class="num" x="314.6" y="712.3" font-size="24.4" textLength="48" lengthAdjust="spacingAndGlyphs">LME</text><text class="kai" x="365.5" y="711.5" font-size="25">铜</text>
<text class="kai" x="621.6" y="713" font-size="26" letter-spacing="2">通胀预期（右轴<tspan dx="4">）</tspan></text>
<text class="kai" x="18" y="811" font-size="28" letter-spacing="2.67">来源：</text><text class="mono" x="108.7" y="811" font-size="30.67" textLength="61.3" lengthAdjust="spacingAndGlyphs">Wind</text><text class="kai" x="172" y="811" font-size="28" letter-spacing="2.67">，国金证券研究所</text>
<text class="num" x="112" y="747.5" font-size="24.4" textLength="117.5" lengthAdjust="spacingAndGlyphs" style="fill:#fafafa">BLRkpKTQ</text>
<g font-family="'Liberation Sans','Noto Sans CJK SC',sans-serif" font-size="26.4" font-weight="400"><text x="886.2" y="799.2" fill="#a8a8a8">赵伟宏观探索</text><text x="885" y="798" fill="#fff" stroke="#d8d8d8" stroke-width="0.4">赵伟宏观探索</text></g>
<g fill="#fff" stroke="#b8b8b8" stroke-width="1.1"><path d="M851.5 771.5c-7.6 0-13.8 5-13.8 11.2 0 3.5 2 6.6 5.1 8.7l-1.6 4.4 5.3-2.7c1.6 0.5 3.2 0.8 5 0.8 7.6 0 13.8-5 13.8-11.2s-6.200-11.200-13.800-11.200z"/><path d="M866 782c-6.600 0-12 4.300-12 9.700s5.400 9.700 12 9.700c1.400 0 2.800-0.200 4.100-0.600l4.600 2.400-1.300-3.900c2.800-1.800 4.600-4.500 4.600-7.600 0-5.400-5.400-9.700-12-9.700z"/><circle cx="846.800" cy="779.500" r="1.500"/><circle cx="856.300" cy="779.500" r="1.500"/><circle cx="862" cy="789.300" r="1.300"/><circle cx="870" cy="789.300" r="1.300"/></g>
</svg>
</body></html>
